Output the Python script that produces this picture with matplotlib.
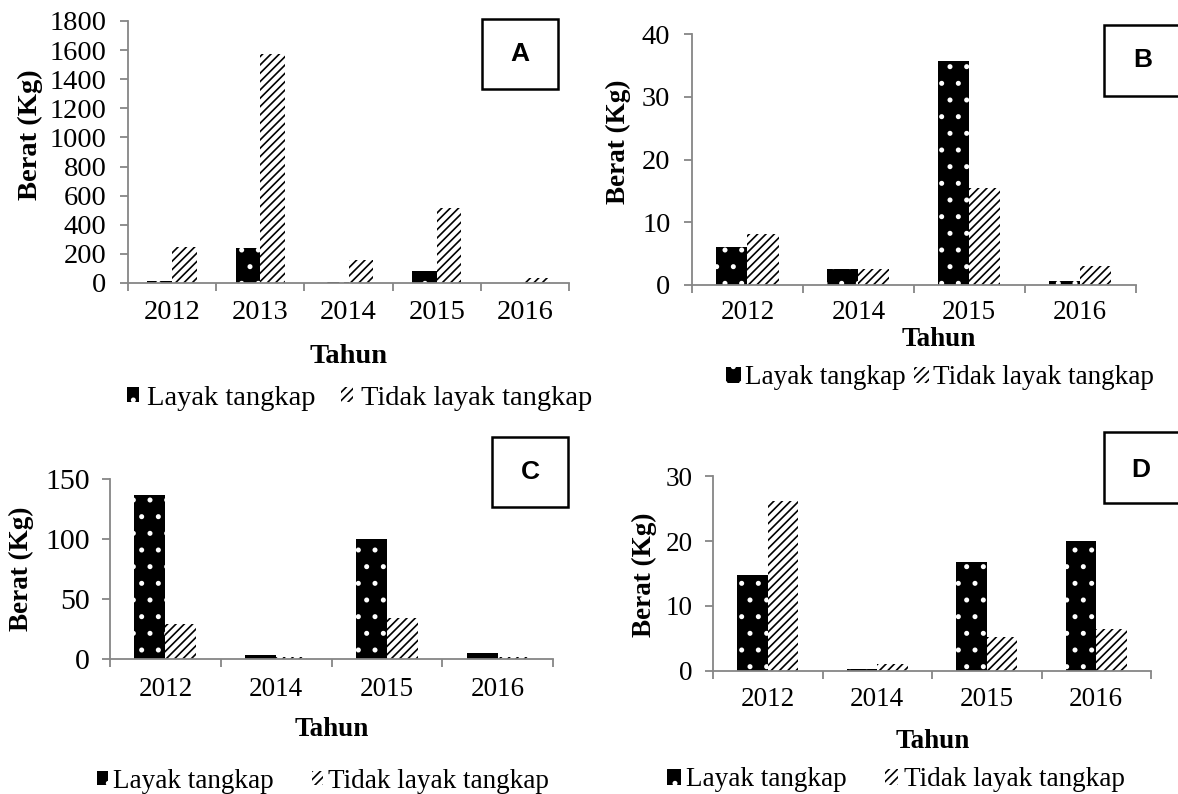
import matplotlib
matplotlib.use("Agg")
import matplotlib.pyplot as plt
from matplotlib.patches import Rectangle
import numpy as np

plt.rcParams['font.family'] = ['Liberation Serif', 'DejaVu Serif']
plt.rcParams['hatch.linewidth'] = 1.2

W, H = 1178, 794

# ---------------- data ----------------
years_A = ["2012", "2013", "2014", "2015", "2016"]
layak_A = [12, 240, 10, 82, 3]
tidak_A = [250, 1575, 158, 513, 32]

years_B = ["2012", "2014", "2015", "2016"]
layak_B = [6.0, 2.5, 35.7, 0.7]
tidak_B = [8.1, 2.5, 15.4, 3.1]

years_C = ["2012", "2014", "2015", "2016"]
layak_C = [136.7, 3.6, 99.8, 5.5]
tidak_C = [29.4, 2.0, 34.1, 2.0]

years_D = ["2012", "2014", "2015", "2016"]
layak_D = [14.7, 0.2, 16.7, 20.0]
tidak_D = [26.2, 1.0, 5.2, 6.4]

series_names = ["Layak tangkap", "Tidak layak tangkap"]
panel_letters = ["A", "B", "C", "D"]
y_ticks_A = [0, 200, 400, 600, 800, 1000, 1200, 1400, 1600, 1800]
y_ticks_B = [0, 10, 20, 30, 40]
y_ticks_C = [0, 50, 100, 150]
y_ticks_D = [0, 10, 20, 30]

GRAY = '#868686'


def rect(l, r, t, b):
    return [l / W, 1 - b / H, (r - l) / W, (b - t) / H]


fig = plt.figure(figsize=(W / 100, H / 100), dpi=100)

panels = [
    dict(years=years_A, lay=layak_A, tid=tidak_A, yt=y_ticks_A,
         r=rect(128, 569, 21, 283), fs=20.5, ytfs=20.5, xtpad=12, ytpad=10,
         ylab=(30, 135), xlab=(349, 356),
         leg=(360, 398), colsp=0.9, htp=0.3, hl=0.4,
         box=(482, 558, 19, 89), letter=(520, 54)),
    dict(years=years_B, lay=layak_B, tid=tidak_B, yt=y_ticks_B,
         r=rect(692, 1135.6, 34.3, 285), fs=19.5, ytfs=20.5, xtpad=11, ytpad=10,
         ylab=(618, 142), xlab=(939, 340),
         leg=(940, 378), colsp=0.3, htp=0.15, hl=0.55,
         box=(1104, 1182, 25, 96), letter=(1143, 60)),
    dict(years=years_C, lay=layak_C, tid=tidak_C, yt=y_ticks_C,
         r=rect(110, 553, 479, 659.3), fs=19.5, ytfs=21.5, xtpad=13, ytpad=9,
         ylab=(21, 569), xlab=(332, 729),
         leg=(323, 781), colsp=1.4, htp=0.2, hl=0.4,
         box=(492, 568, 437, 507), letter=(530, 472)),
    dict(years=years_D, lay=layak_D, tid=tidak_D, yt=y_ticks_D,
         r=rect(713, 1151, 476.3, 670.7), fs=19.5, ytfs=19.5, xtpad=12, ytpad=9,
         ylab=(644, 575), xlab=(933, 742),
         leg=(896, 780), colsp=1.4, htp=0.2, hl=0.5,
         box=(1104, 1182, 432, 503), letter=(1141, 470)),
]

bw = 0.28
for p, letter in zip(panels, panel_letters):
    ax = fig.add_axes(p['r'])
    n = len(p['years'])
    x = np.arange(n)
    ax.bar(x - bw / 2, p['lay'], width=bw, facecolor='black', edgecolor='white',
           linewidth=0, hatch='.', label=series_names[0], zorder=2)
    ax.bar(x + bw / 2, p['tid'], width=bw, facecolor='white', edgecolor='black',
           linewidth=0, hatch='////', label=series_names[1], zorder=2)
    ax.set_xlim(-0.5, n - 0.5)
    ax.set_ylim(0, p['yt'][-1])
    ax.set_yticks(p['yt'])
    ax.set_xticks(x)
    ax.set_xticklabels(p['years'])
    ax.set_xticks(np.arange(n + 1) - 0.5, minor=True)
    for s in ['top', 'right']:
        ax.spines[s].set_visible(False)
    for s in ['left', 'bottom']:
        ax.spines[s].set_color(GRAY)
        ax.spines[s].set_linewidth(1.3)
    ax.tick_params(axis='x', which='major', length=0, labelsize=p['fs'], pad=p['xtpad'])
    ax.tick_params(axis='x', which='minor', length=6, width=1.3, color=GRAY, direction='out')
    ax.tick_params(axis='y', length=5.5, width=1.3, color=GRAY, direction='out',
                   labelsize=p['ytfs'], pad=p['ytpad'])

    ax.set_xlabel('Tahun', fontsize=p['fs'], fontweight='bold')
    ax.xaxis.set_label_coords(p['xlab'][0] / W, 1 - p['xlab'][1] / H, transform=fig.transFigure)
    ax.xaxis.label.set_verticalalignment('center')
    ax.set_ylabel('Berat (Kg)', fontsize=p['fs'], fontweight='bold')
    ax.yaxis.set_label_coords(p['ylab'][0] / W, 1 - p['ylab'][1] / H, transform=fig.transFigure)
    ax.yaxis.label.set_verticalalignment('center')
    ax.yaxis.label.set_horizontalalignment('center')

    ax.legend(loc='center', bbox_to_anchor=(p['leg'][0] / W, 1 - p['leg'][1] / H),
              bbox_transform=fig.transFigure, ncol=2, frameon=False,
              fontsize=p['fs'], handlelength=p['hl'], handleheight=p['hl'],
              handletextpad=p['htp'], columnspacing=p['colsp'], borderpad=0,
              borderaxespad=0)

    l, r, t, b = p['box']
    fig.add_artist(Rectangle((l / W, 1 - b / H), (r - l) / W, (b - t) / H,
                             transform=fig.transFigure, facecolor='white',
                             edgecolor='black', linewidth=1.8, clip_on=False))
    fig.text(p['letter'][0] / W, 1 - p['letter'][1] / H, letter, ha='center', va='center',
             fontsize=19, fontweight='bold', family=['Liberation Sans', 'DejaVu Sans'])

fig.savefig('out.png', dpi=100)
